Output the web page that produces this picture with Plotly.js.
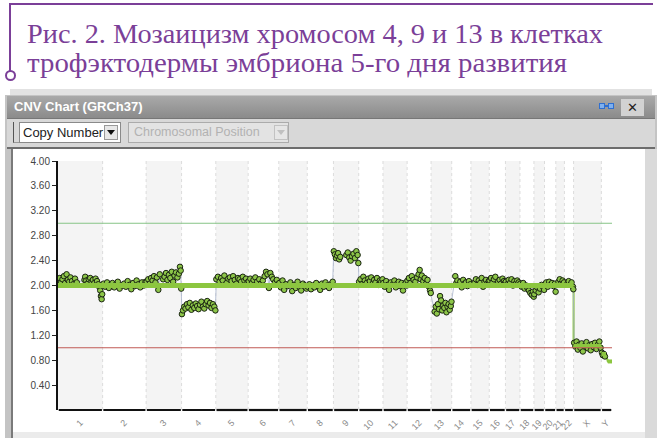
<!DOCTYPE html>
<html><head><meta charset="utf-8">
<script src="https://cdn.plot.ly/plotly-3.0.1.min.js"></script>
<style>
html,body{margin:0;padding:0;background:#fff;width:664px;height:438px;overflow:hidden;position:relative;font-family:"Liberation Sans",Arial,sans-serif;}
.abs{position:absolute;box-sizing:border-box;}
#cap{font-family:"Liberation Serif","DejaVu Serif","Times New Roman",serif;}
</style></head><body>
<!-- figure caption with purple bracket -->
<div class="abs" style="left:10px;top:3px;width:643px;height:2px;background:#7b3f98"></div>
<div class="abs" style="left:9px;top:3px;width:2px;height:68px;background:#7b3f98"></div>
<div class="abs" style="left:5px;top:70px;width:11px;height:11px;border:2px solid #7b3f98;border-radius:50%;background:#fff"></div>
<div class="abs" id="cap" style="left:27px;top:19px;font-size:28px;line-height:29px;color:#7b3f98;white-space:nowrap"><span id="l1">Рис. 2. Мозаицизм хромосом 4, 9 и 13 в клетках</span><br><span id="l2">трофэктодермы эмбриона 5-го дня развития</span></div>

<!-- window chrome -->
<div class="abs" style="left:10px;top:89px;width:642px;height:6px;background:#e2e2e2"></div>
<div class="abs" style="left:5px;top:95px;width:652px;height:343px;background:#c4c4c4"></div>
<div class="abs" style="left:7px;top:96px;width:648px;height:22px;background:linear-gradient(#a9a9a9,#8b8b8b);color:#fff;font-weight:bold;font-size:13px;line-height:22px;padding-left:7px">CNV Chart (GRCh37)</div>
<div class="abs" style="left:599px;top:103px;width:6px;height:6px;border:1.5px solid #2f6fd0;background:#7fb0ee"></div>
<div class="abs" style="left:605px;top:105px;width:3px;height:1.5px;background:#2f6fd0"></div>
<div class="abs" style="left:608px;top:103px;width:6px;height:6px;border:1.5px solid #2f6fd0;background:#7fb0ee"></div>
<div class="abs" style="left:621px;top:99px;width:23px;height:17px;background:#d2d2d2;color:#222;font-size:13px;line-height:17px;text-align:center">✕</div>
<div class="abs" style="left:7px;top:118px;width:648px;height:31px;background:#d8d8d8;border-top:1px solid #777;border-bottom:2px solid #6d6d6d"></div>
<div class="abs" style="left:13px;top:122px;width:6px;height:21px;border-left:1px solid #555;border-bottom:1px solid #999"></div>
<div class="abs" style="left:19px;top:122px;width:102px;height:21px;background:#fff;border:1px solid #8a8a8a;font-size:13px;line-height:19px;padding-left:3px;color:#222">Copy Number</div>
<div class="abs" style="left:104px;top:125px;width:14px;height:15px;background:#e8e8e8;border:1px solid #999"></div>
<div class="abs" style="left:107px;top:130px;width:0;height:0;border-left:4px solid transparent;border-right:4px solid transparent;border-top:5px solid #111"></div>
<div class="abs" style="left:128px;top:122px;width:161px;height:21px;background:#e3e3e3;border:1px solid #ababab;font-size:12.5px;line-height:19px;padding-left:5px;color:#b2b2b2">Chromosomal Position</div>
<div class="abs" style="left:274px;top:125px;width:14px;height:15px;background:#e6e6e6;border:1px solid #c2c2c2"></div>
<div class="abs" style="left:277px;top:130px;width:0;height:0;border-left:4px solid transparent;border-right:4px solid transparent;border-top:5px solid #c0c0c0"></div>
<div class="abs" style="left:11px;top:149px;width:634px;height:283px;background:#fff;border-left:2px solid #7a7a7a"></div>
<div class="abs" style="left:645px;top:149px;width:12px;height:289px;background:#dadada"></div>
<div class="abs" style="left:11px;top:432px;width:634px;height:6px;background:#ebebeb;border-left:2px solid #7a7a7a"></div>

<div id="chart" class="abs" style="left:0;top:0;width:664px;height:438px;z-index:5"></div>
<script>
const chrNames = ['1','2','3','4','5','6','7','8','9','10','11','12','13','14','15','16','17','18','19','20','21','22','X','Y'];
const chrLen = [249.3,243.2,198.0,191.2,180.9,171.1,159.1,146.4,141.2,135.5,135.0,133.9,115.2,107.3,102.5,90.4,81.2,78.1,59.1,63.0,48.1,51.3,155.3,59.4];
const yTickVals = [0.4,0.8,1.2,1.6,2.0,2.4,2.8,3.2,3.6,4.0];
const yTickText = ['0.40','0.80','1.20','1.60','2.00','2.40','2.80','3.20','3.60','4.00'];
const refLines = [3.0, 1.0];

// probe positions (Mb within chromosome) and copy-number values, one list per chromosome
const probePos = [
 [3,10,18,25,33,40,48,55,63,70,78,85,95,105,148,152,158,165,172,180,188,195,203,210,218,225,232,236,240,244,247],
 [5,15,25,35,45,55,65,75,85,95,110,120,130,140,150,160,170,180,190,200,210,220,230,240],
 [3,12,20,28,36,44,52,60,68,76,95,103,111,119,127,135,143,151,159,167,175,183,189,193,196],
 [2,8,15,22,30,38,46,55,63,71,79,87,95,103,111,119,127,135,143,151,159,167,175,183,189],
 [3,12,21,30,39,48,60,70,79,88,97,106,115,124,133,142,151,160,169,178],
 [3,12,21,30,40,50,62,72,82,92,100,108,116,124,132,140,150,160,168],
 [3,12,21,30,40,50,65,75,85,95,105,115,125,135,145,155],
 [3,12,21,30,40,50,60,72,82,92,102,112,122,132,142],
 [2,8,14,20,26,32,38,72,80,88,96,104,112,120,128,135,139],
 [2,10,18,26,34,44,54,62,70,78,86,94,102,110,118,126,133],
 [2,10,18,26,34,44,56,64,72,80,88,96,104,112,120,128,133],
 [2,10,18,26,36,46,56,64,70,76,82,90,98,106,114,122,128,132],
 [20,26,32,38,44,50,56,62,68,74,80,86,92,98,104,110,114],
 [20,26,32,40,48,56,64,72,80,88,96,104],
 [21,28,36,44,52,60,68,76,84,92,100],
 [2,10,18,26,34,50,58,66,74,82,88],
 [2,10,18,26,34,42,50,58,66,74,79],
 [2,10,18,26,34,42,50,58,66,72,77],
 [2,10,18,26,34,42,50,57],
 [2,10,18,26,34,42,50,58,62],
 [15,22,30,38,46],
 [17,24,32,40,48,50],
 [3,10,17,24,31,38,45,52,62,72,80,88,96,104,112,120,128,136,144,151],
 [3,8,14,20]
];
const probeCN = [
 [2.08,2.12,2.05,2.10,2.15,2.04,2.18,2.09,2.06,2.13,2.07,2.02,2.11,2.05,2.09,2.14,2.08,2.03,2.10,2.12,2.06,2.09,2.04,2.11,2.07,2.02,1.97,1.92,1.83,1.78,1.86],
 [2.03,1.98,2.05,1.96,2.01,2.04,1.97,2.02,2.06,1.95,2.00,2.03,1.98,2.07,2.01,1.94,2.04,1.99,2.08,2.02,1.97,2.05,2.00,2.06],
 [2.06,2.10,2.03,2.12,2.08,2.15,2.05,2.13,1.93,2.18,2.10,2.14,2.20,2.09,2.17,2.12,2.22,2.06,2.16,2.21,2.13,2.19,2.30,2.24,1.95],
 [1.54,1.60,1.66,1.63,1.70,1.65,1.72,1.61,1.68,1.64,1.71,1.67,1.62,1.69,1.74,1.66,1.63,1.70,1.75,1.68,1.72,1.64,1.70,1.66,1.60],
 [2.10,2.14,2.06,2.12,2.08,2.16,2.04,2.11,2.13,2.07,2.15,2.09,2.03,2.12,2.10,2.06,2.14,2.08,2.11,2.05],
 [2.07,2.11,2.04,2.09,2.13,2.06,2.10,2.03,2.08,2.15,2.22,2.18,1.96,2.20,2.14,2.10,2.05,2.09,2.02],
 [2.04,1.97,2.08,1.93,2.02,1.99,2.05,1.91,2.01,1.96,2.06,1.98,1.92,2.03,2.00,1.95],
 [1.98,2.02,1.94,2.00,1.97,2.04,1.99,1.93,2.03,1.98,2.05,2.00,1.96,2.02,2.06],
 [2.55,2.50,2.44,2.48,2.52,2.42,2.46,2.49,2.53,2.45,2.40,2.47,2.51,2.44,2.55,2.49,2.36],
 [2.06,2.10,2.02,2.14,2.08,2.04,2.11,2.07,2.13,2.03,2.09,2.05,2.12,2.01,2.08,2.06,2.10],
 [2.04,1.98,2.07,2.01,1.93,2.05,2.02,2.08,1.97,2.03,2.06,1.99,2.04,1.92,2.01,2.05,2.00],
 [2.08,2.12,2.04,2.15,2.09,2.06,2.13,2.18,2.25,2.10,2.16,2.07,2.12,2.03,2.09,1.98,1.92,1.88],
 [1.58,1.66,1.55,1.70,1.62,1.83,1.76,1.60,1.68,1.64,1.72,1.57,1.66,1.70,1.61,1.67,1.74],
 [2.15,2.04,2.08,2.01,2.06,1.97,2.09,2.03,2.05,1.99,2.07,2.02],
 [2.05,2.10,2.01,2.08,2.04,2.12,1.98,2.06,2.09,2.03,2.07],
 [2.08,2.12,2.05,2.10,2.14,2.06,2.09,2.03,2.11,2.07,2.04],
 [2.06,2.02,2.09,2.04,2.10,2.00,2.07,2.03,2.08,2.05,2.01],
 [2.03,1.98,2.04,1.95,2.00,1.96,1.92,1.88,1.85,1.90,1.82],
 [1.86,1.92,1.97,1.89,1.95,2.01,1.98,1.93],
 [2.02,2.05,1.98,2.06,2.01,2.04,1.99,2.03,1.90],
 [2.06,2.10,2.03,2.08,2.05],
 [2.03,2.07,2.01,2.05,1.98,1.94],
 [1.08,1.02,1.10,0.97,1.05,1.00,1.07,0.94,1.03,1.09,0.99,1.04,0.96,1.06,1.01,1.08,0.98,1.05,1.10,1.00],
 [0.92,0.88,0.90,0.86]
];

// copy-number segments: start chr index/pos, end chr index/pos, value
const segStartChr = [0, 22, 23, 23];
const segStartPos = [0, 0, 0, 36];
const segEndChr   = [21, 22, 23, 23];
const segEndPos   = [51.3, 155.3, 26, 59.4];
const segCN       = [2.0, 1.03, 0.90, 0.78];

// fit caption lines to the reference widths
const capWidths = [576, 540];
['l1','l2'].forEach((id,i) => {
  const el = document.getElementById(id);
  el.style.display = 'inline-block';
  const w = el.getBoundingClientRect().width;
  el.style.transformOrigin = 'left center';
  el.style.transform = 'scaleX(' + (capWidths[i] / w) + ')';
});

const chrStart = [];
let acc = 0;
chrLen.forEach(l => { chrStart.push(acc); acc += l; });
const genomeLen = acc;
const chrMid = chrLen.map((l,i) => chrStart[i] + l/2);

const px = [], py = [];
probePos.forEach((arr, c) => arr.forEach((p, j) => { px.push(chrStart[c] + p); py.push(probeCN[c][j]); }));

const traces = [];
const cx = [], cy = [];
segCN.forEach((v,i) => {
  cx.push(chrStart[segStartChr[i]] + segStartPos[i]); cy.push(v);
  cx.push(chrStart[segEndChr[i]] + segEndPos[i]); cy.push(v);
});
traces.push({x: cx, y: cy, mode:'lines', line:{color:'#8cc63f', width:2}, hoverinfo:'skip'});
traces.push({x: px, y: py, mode:'lines+markers', line:{color:'#a7b3cc', width:0.8},
  marker:{size:5.5, color:'#8cc548', line:{color:'#1a2412', width:1}}, hoverinfo:'skip'});
segCN.forEach((v,i) => {
  traces.push({x:[chrStart[segStartChr[i]] + segStartPos[i], chrStart[segEndChr[i]] + segEndPos[i]], y:[v,v],
    mode:'lines', line:{color:'#8cc63f', width: i===0 ? 5 : 4}, hoverinfo:'skip'});
});

const shapes = [];
chrLen.forEach((l,i) => {
  if (i % 2 === 0) shapes.push({type:'rect', xref:'x', yref:'paper', x0:chrStart[i], x1:chrStart[i]+l, y0:0, y1:1,
    fillcolor:'#f4f4f4', line:{width:0}, layer:'below'});
  if (i > 0) shapes.push({type:'line', xref:'x', yref:'paper', x0:chrStart[i], x1:chrStart[i], y0:0, y1:1,
    line:{color:'#dcdcdc', width:1, dash:'dot'}, layer:'below'});
  shapes.push({type:'line', xref:'x', yref:'paper', x0:chrStart[i]+4, x1:chrStart[i]+l-4, y0:0, y1:0,
    line:{color:'#111', width:2.2}});
});
shapes.push({type:'line', xref:'paper', yref:'y', x0:0, x1:1, y0:refLines[0], y1:refLines[0], line:{color:'#86c486', width:1}});
shapes.push({type:'line', xref:'paper', yref:'y', x0:0, x1:1, y0:refLines[1], y1:refLines[1], line:{color:'#c05a55', width:1}});

const layout = {
  width:664, height:438,
  margin:{l:58, r:52, t:161, b:28, pad:0},
  paper_bgcolor:'rgba(0,0,0,0)', plot_bgcolor:'rgba(0,0,0,0)',
  showlegend:false,
  xaxis:{range:[0, genomeLen], tickvals:chrMid, ticktext:chrNames, tickangle:-45,
    ticks:'outside', ticklen:3, tickcolor:'rgba(0,0,0,0)', showgrid:false, zeroline:false, showline:false,
    tickfont:{family:'Liberation Sans, Arial, sans-serif', size:9, color:'#8a8a8a'}},
  yaxis:{range:[0,4], tickvals:yTickVals, ticktext:yTickText, ticks:'outside', ticklen:4, tickcolor:'#222',
    showgrid:false, zeroline:false, showline:true, linecolor:'#111', linewidth:2,
    tickfont:{family:'Liberation Sans, Arial, sans-serif', size:10, color:'#444'}},
  shapes: shapes
};
Plotly.newPlot('chart', traces, layout, {staticPlot:true, displayModeBar:false});
</script>
</body></html>
